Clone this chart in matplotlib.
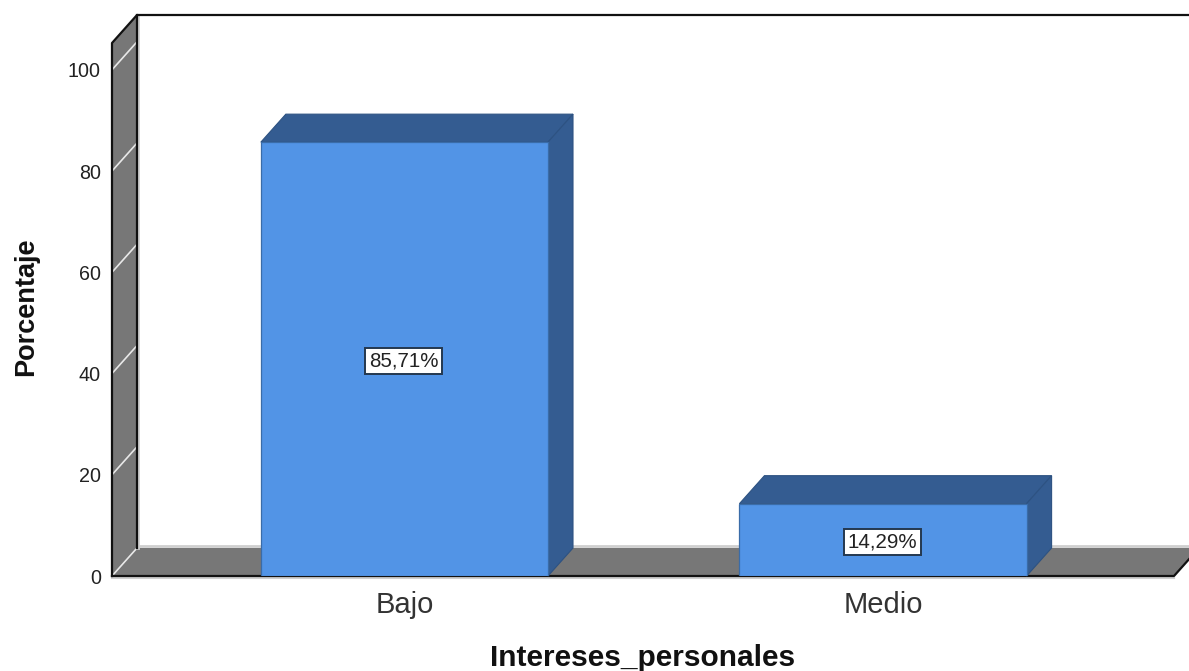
#!/usr/bin/env python3
"""SPSS style 3D bar chart of Intereses_personales."""

import matplotlib
matplotlib.use("Agg")
import matplotlib.pyplot as plt
from matplotlib.patches import Polygon
from matplotlib.transforms import ScaledTranslation

categories = ["Bajo", "Medio"]
values = [85.71, 14.29]
value_labels = ["85,71%", "14,29%"]
y_ticks = [0, 20, 40, 60, 80, 100]

W, H = 1189, 671
DEPTH_X, DEPTH_Y = 25, 28  # px
BAR_FRONT = "#5294E6"
BAR_DARK = "#345C91"
WALL = "#777777"
EDGE_LIGHT = "#CFCFCF"

plt.rcParams["font.family"] = ["Liberation Sans", "DejaVu Sans"]

fig = plt.figure(figsize=(W / 100, H / 100), dpi=100)
ax = fig.add_axes([112 / W, 1 - 576 / H, (1174 - 112) / W, (576 - 43) / H])
ax.set_xlim(-0.611, 1.608)
ax.set_ylim(0, 105.3)
ax.patch.set_visible(False)
for s in ax.spines.values():
    s.set_visible(False)

# offset transform for the back plane of the box
back = ax.transData + ScaledTranslation(DEPTH_X / 100, DEPTH_Y / 100, fig.dpi_scale_trans)


def to_back(x, y):
    return ax.transData.inverted().transform(back.transform((x, y)))


def poly(pts, color, z, edge=None, lw=0.0):
    ax.add_patch(Polygon(pts, closed=True, facecolor=color, edgecolor=edge or color,
                         linewidth=lw, zorder=z, clip_on=False))


x0, x1 = ax.get_xlim()
y1 = ax.get_ylim()[1]
bx0, by0 = to_back(x0, 0)
bx1, _ = to_back(x1, 0)
_, by1 = to_back(x0, y1)
right = x1 + 0.1

# floor and left wall
poly([(x0, 0), (x1, 0), (bx1, by0), (bx0, by0)], WALL, 1)
poly([(x0, 0), (bx0, by0), (bx0, by1), (x0, y1)], WALL, 1)

# white gridlines on the wall
for t in y_ticks:
    bx, by = to_back(x0, t)
    ax.plot([x0, bx], [t, by], color="#E8E8E8", lw=1.2, zorder=2, clip_on=False)

# box outlines
ax.plot([bx0, bx1], [by0 + 0.3, by0 + 0.3], color=EDGE_LIGHT, lw=2.0, zorder=1.5, clip_on=False)
ax.plot([bx0 + 0.002, bx0 + 0.002], [by0, by1], color=EDGE_LIGHT, lw=2.0, zorder=1.4, clip_on=False)
ax.plot([x0, x1], [-0.45, -0.45], color=EDGE_LIGHT, lw=1.5, zorder=2, clip_on=False)
ax.plot([x0, x1, bx1], [0, 0, by0], color="#111111", lw=1.6, zorder=3, clip_on=False)
ax.plot([x0, x0, bx0, right], [0, y1, by1, by1], color="#111111", lw=1.6, zorder=3, clip_on=False)
ax.plot([bx0, bx0], [by0, by1], color="#111111", lw=1.6, zorder=3, clip_on=False)

# bars
bar_w = 0.6
for i, (v, lab) in enumerate(zip(values, value_labels)):
    l, r = i - bar_w / 2, i + bar_w / 2
    bl_x, bl_y = to_back(l, v)
    br_x, br_y = to_back(r, v)
    b0_x, b0_y = to_back(r, 0)
    poly([(l, v), (r, v), (br_x, br_y), (bl_x, bl_y)], BAR_DARK, 4, "#2D5282", 0.8)
    poly([(r, 0), (b0_x, b0_y), (br_x, br_y), (r, v)], BAR_DARK, 4, "#2D5282", 0.8)
    ax.bar(i, v, width=bar_w, color=BAR_FRONT, edgecolor="#3A6CA8", linewidth=0.9, zorder=5)
    ax.text(i - 0.002, v / 2 - 0.4, lab, ha="center", va="center", fontsize=14.8,
            color="#222222", zorder=7,
            bbox=dict(boxstyle="square,pad=0.18", facecolor="white",
                      edgecolor="#24384F", linewidth=1.4))

ax.set_xticks(range(len(categories)))
ax.set_xticklabels(categories, fontsize=21, color="#333333")
ax.set_yticks(y_ticks)
ax.set_yticklabels([str(t) for t in y_ticks], fontsize=14.2, color="#222222")
ax.tick_params(axis="x", length=0, pad=11)
ax.tick_params(axis="y", length=0, pad=8)

fig.text(643 / W, 1 - 658 / H, "Intereses_personales", ha="center", va="center",
         fontsize=21.5, fontweight="bold", color="#111111")
fig.text(26 / W, 1 - 307 / H, "Porcentaje", ha="center", va="center", rotation=90,
         fontsize=19.5, fontweight="bold", color="#111111")

fig.savefig("out.png", dpi=100)
